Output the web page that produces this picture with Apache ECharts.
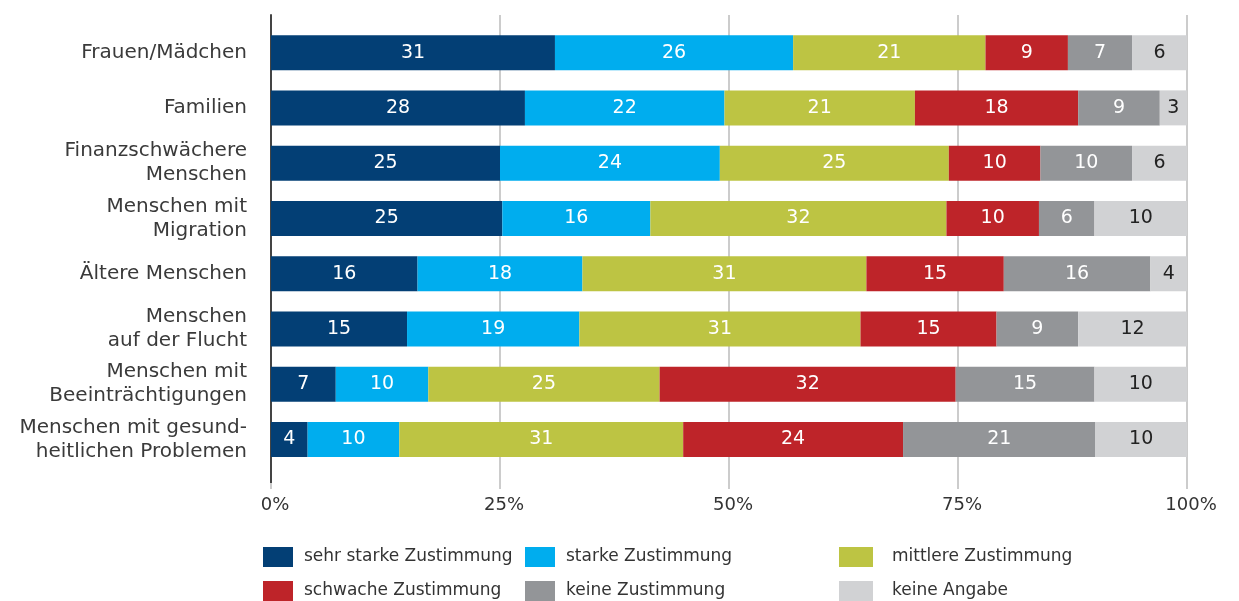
<!DOCTYPE html>
<html><head><meta charset="utf-8">
<script src="https://cdn.jsdelivr.net/npm/echarts@6/dist/echarts.min.js"></script>
<style>html,body{margin:0;padding:0;background:#fff}#c{width:1239px;height:601px}</style>
</head><body><div id="c"></div>
<script>
const categories = ['Frauen/Mädchen','Familien','Finanzschwächere\nMenschen','Menschen mit\nMigration','Ältere Menschen','Menschen\nauf der Flucht','Menschen mit\nBeeinträchtigungen','Menschen mit gesund-\nheitlichen Problemen'];
const seriesNames = ['sehr starke Zustimmung','starke Zustimmung','mittlere Zustimmung','schwache Zustimmung','keine Zustimmung','keine Angabe'];
const sehrStark = [31,28,25,25,16,15,7,4];
const stark     = [26,22,24,16,18,19,10,10];
const mittlere  = [21,21,25,32,31,31,25,31];
const schwach   = [9,18,10,10,15,15,32,24];
const keine     = [7,9,10,6,16,9,15,21];
const angabe    = [6,3,6,10,4,12,10,10];
const tickLabels = ['0%','25%','50%','75%','100%'];

const raw = [sehrStark, stark, mittlere, schwach, keine, angabe];
const colors = ['#033f75','#00adee','#bdc443','#be2429','#939598','#d1d2d4'];
const labelColors = ['#fff','#fff','#fff','#fff','#fff','#222'];
const sums = categories.map((c,i)=>raw.reduce((s,a)=>s+a[i],0));
const FONT = 'DejaVu Sans';

const series = raw.map((arr,k)=>({
  name: seriesNames[k], type:'bar', stack:'total', xAxisIndex:0, yAxisIndex:0,
  barWidth: 35,
  itemStyle:{color:colors[k]},
  label:{show:true, position:'inside', color:labelColors[k], fontFamily:FONT, fontSize:19,
    formatter: p => String(arr[p.dataIndex])},
  data: arr.map((v,i)=> v / sums[i] * 100)
}));

const legendBase = {orient:'vertical', top:547, padding:0, itemWidth:30, itemHeight:20, itemGap:14, icon:'rect',
  textStyle:{fontFamily:FONT, fontSize:17, color:'#333', padding:[0,0,0,6]}};

const option = {
  animation:false,
  grid:[{left:271, right:52, top:25, bottom:134},{left:271, right:52, top:15, bottom:118}],
  xAxis:[
    {type:'value', gridIndex:0, min:0, max:100, show:false},
    {type:'value', gridIndex:1, min:0, max:100, interval:25,
     axisLine:{show:false},
     axisTick:{show:true, length:6, lineStyle:{color:'#cccccc', width:2}},
     splitLine:{show:true, lineStyle:{color:'#cccccc', width:2}},
     axisLabel:{margin:13, fontFamily:FONT, fontSize:18, color:'#333', padding:[0,0,0,8],
       formatter: v => tickLabels[Math.round(v/25)]}}
  ],
  yAxis:[
    {type:'category', gridIndex:0, inverse:true, data:categories,
     axisLine:{show:false}, axisTick:{show:false}, splitLine:{show:false},
     axisLabel:{margin:24, fontFamily:FONT, fontSize:20, color:'#3a3a3a', lineHeight:24, align:'right'}},
    {type:'value', gridIndex:1, min:0, max:1, axisLabel:{show:false}, axisTick:{show:false},
     splitLine:{show:false}, axisLine:{show:true, lineStyle:{color:'#444', width:2}}}
  ],
  legend:[
    Object.assign({}, legendBase, {left:263, data:[seriesNames[0], seriesNames[3]]}),
    Object.assign({}, legendBase, {left:525, data:[seriesNames[1], seriesNames[4]]}),
    Object.assign({}, legendBase, {left:839, itemWidth:34, textStyle:Object.assign({}, legendBase.textStyle, {padding:[0,0,0,14]}), data:[seriesNames[2], seriesNames[5]]})
  ],
  series: series
};
echarts.init(document.getElementById('c')).setOption(option);
</script></body></html>
